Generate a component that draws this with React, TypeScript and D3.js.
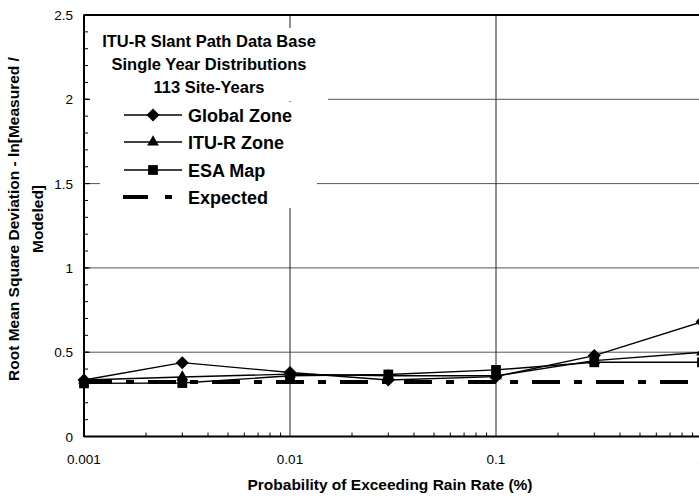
import * as d3 from "d3";

const probabilities = [0.001, 0.003, 0.01, 0.03, 0.1, 0.3, 1];
const globalZone = [0.335, 0.438, 0.38, 0.335, 0.355, 0.48, 0.68];
const ituZone = [0.335, 0.353, 0.37, 0.36, 0.36, 0.45, 0.5];
const esaMap = [0.315, 0.317, 0.36, 0.368, 0.395, 0.44, 0.44];
const expectedValue = 0.323;

const xTicks = [0.001, 0.01, 0.1, 1];
const yTicks = [0, 0.5, 1, 1.5, 2, 2.5];
const titleLines = ["ITU-R Slant Path Data Base", "Single Year Distributions", "113 Site-Years"];

const W = 699;
const H = 496;
const FONT = "'Liberation Sans', Arial, Helvetica, sans-serif";

const series = [
  { name: "Global Zone", values: globalZone, symbol: d3.symbolSquare, size: 85, rotate: 45 },
  { name: "ITU-R Zone", values: ituZone, symbol: d3.symbolTriangle, size: 60, rotate: 0 },
  { name: "ESA Map", values: esaMap, symbol: d3.symbolSquare, size: 95, rotate: 0 },
];

export default function App() {
  const x = d3.scaleLog().domain([0.001, 1]).range([84, 702]);
  const y = d3.scaleLinear().domain([0, 2.5]).range([436.5, 15]);

  const line = d3
    .line<number>()
    .x((_, i) => x(probabilities[i]))
    .y((d) => y(d));

  // minor ticks
  const yMinor = d3.range(0, 26).map((i) => i / 10);
  const xMinor: number[] = [];
  [0.001, 0.01, 0.1].forEach((dec) => {
    for (let k = 2; k <= 9; k++) xMinor.push(dec * k);
  });

  const legendY = [115, 142, 170, 197];

  return (
    <svg
      width={W}
      height={H}
      style={{ position: "absolute", left: 0, top: 0, background: "#fff" }}
      fontFamily={FONT}
    >
      {/* gridlines */}
      {yTicks.slice(1, -1).map((t) => (
        <line key={"gy" + t} x1={x(0.001)} x2={x(1)} y1={y(t)} y2={y(t)} stroke="#555" strokeWidth={1} />
      ))}
      {xTicks.slice(1, -1).map((t) => (
        <line key={"gx" + t} x1={x(t)} x2={x(t)} y1={y(0)} y2={y(2.5)} stroke="#222" strokeWidth={1} />
      ))}

      {/* title and legend boxes */}
      <rect x={90} y={28} width={238} height={73} fill="#fff" />
      <rect x={100} y={102} width={217} height={106} fill="#fff" />
      {titleLines.map((t, i) => (
        <text key={t} x={209} y={47 + i * 23} textAnchor="middle" fontSize={16.5} fontWeight="bold">
          {t}
        </text>
      ))}
      {series.map((s, i) => (
        <g key={s.name}>
          <line x1={124} x2={182} y1={legendY[i]} y2={legendY[i]} stroke="#000" strokeWidth={1.3} />
          <path
            d={d3.symbol(s.symbol, s.size)() || ""}
            transform={`translate(153,${legendY[i]}) rotate(${s.rotate})`}
            fill="#000"
          />
          <text x={188} y={legendY[i] + 6.5} fontSize={18} fontWeight="bold">
            {s.name}
          </text>
        </g>
      ))}
      <line x1={123} x2={148} y1={legendY[3]} y2={legendY[3]} stroke="#000" strokeWidth={4} />
      <line x1={165} x2={172} y1={legendY[3]} y2={legendY[3]} stroke="#000" strokeWidth={4} />
      <text x={188} y={legendY[3] + 6.5} fontSize={18} fontWeight="bold">
        Expected
      </text>

      {/* expected */}
      <line
        x1={x(0.001)}
        x2={x(1)}
        y1={y(expectedValue)}
        y2={y(expectedValue)}
        stroke="#000"
        strokeWidth={4}
        strokeDasharray="28,14,8,14"
      />

      {/* series */}
      {series.map((s) => (
        <g key={"s" + s.name}>
          <path d={line(s.values) || ""} fill="none" stroke="#000" strokeWidth={1.4} />
          {s.values.map((v, i) => (
            <path
              key={i}
              d={d3.symbol(s.symbol, s.size)() || ""}
              transform={`translate(${x(probabilities[i])},${y(v)}) rotate(${s.rotate})`}
              fill="#000"
            />
          ))}
        </g>
      ))}

      {/* axes */}
      <line x1={x(0.001)} x2={x(0.001)} y1={y(0)} y2={y(2.5)} stroke="#000" strokeWidth={2} />
      <line x1={x(0.001)} x2={x(1)} y1={y(0)} y2={y(0)} stroke="#000" strokeWidth={2} />
      <line x1={x(0.001)} x2={x(1)} y1={y(2.5)} y2={y(2.5)} stroke="#000" strokeWidth={2} />
      <line x1={x(1)} x2={x(1)} y1={y(0)} y2={y(2.5)} stroke="#000" strokeWidth={2} />
      {yMinor.map((t) => (
        <line key={"ym" + t} x1={x(0.001)} x2={x(0.001) + 4} y1={y(t)} y2={y(t)} stroke="#000" strokeWidth={1} />
      ))}
      {yTicks.map((t) => (
        <line key={"yM" + t} x1={x(0.001) - 1} x2={x(0.001) + 6} y1={y(t)} y2={y(t)} stroke="#000" strokeWidth={1} />
      ))}
      {xMinor.map((t) => (
        <line key={"xm" + t} x1={x(t)} x2={x(t)} y1={y(0)} y2={y(0) - 4} stroke="#000" strokeWidth={1} />
      ))}
      {yTicks.map((t) => (
        <text key={"yl" + t} x={73} y={y(t) + 5} textAnchor="end" fontSize={13.5}>
          {String(t)}
        </text>
      ))}
      {xTicks.map((t) => (
        <text key={"xl" + t} x={x(t)} y={464} textAnchor="middle" fontSize={13.5}>
          {String(t)}
        </text>
      ))}

      {/* axis titles */}
      <text x={390} y={490} textAnchor="middle" fontSize={15.5} fontWeight="bold">
        Probability of Exceeding Rain Rate (%)
      </text>
      <g transform="translate(0,219) rotate(-90)" fontSize={15.5} fontWeight="bold" textAnchor="middle">
        <text x={0} y={18.5}>Root Mean Square Deviation - ln[Measured /</text>
        <text x={0} y={43}>Modeled]</text>
      </g>
    </svg>
  );
}
